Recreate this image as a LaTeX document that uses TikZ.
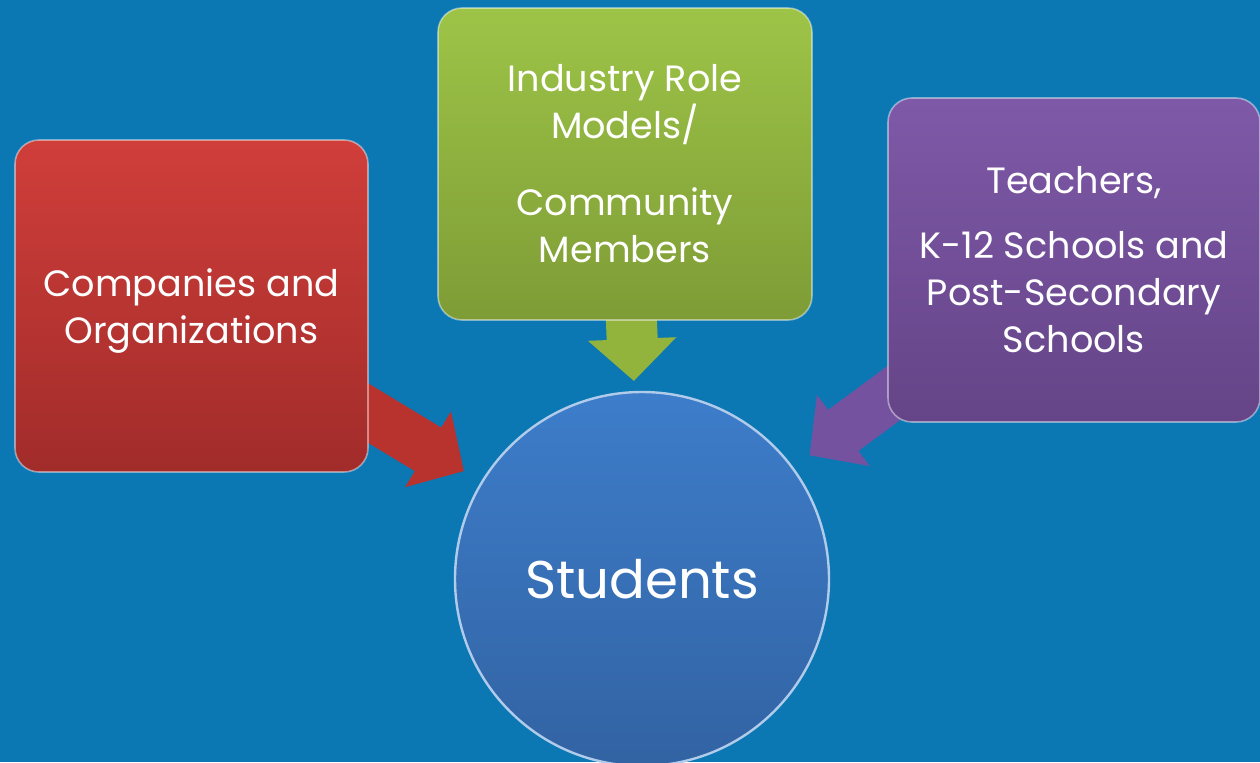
\documentclass[tikz,border=0pt]{standalone}
\usepackage{fontspec}
\setmainfont{Poppins}
\usepackage{tikz}
\usetikzlibrary{arrows.meta,backgrounds}
\pgfdeclarelayer{feedlayer}
\pgfsetlayers{background,feedlayer,main}
\definecolor{bgblue}{HTML}{0B78B4}
\definecolor{redTop}{HTML}{D03E3A}
\definecolor{redBot}{HTML}{A12C2A}
\definecolor{redArr}{HTML}{B8322E}
\definecolor{grnTop}{HTML}{9DC447}
\definecolor{grnBot}{HTML}{7E9C36}
\definecolor{grnArr}{HTML}{93B43C}
\definecolor{prpTop}{HTML}{7E59A8}
\definecolor{prpBot}{HTML}{654487}
\definecolor{prpArr}{HTML}{7552A0}
\definecolor{stuTop}{HTML}{3D7DCA}
\definecolor{stuBot}{HTML}{3263A3}
\tikzset{
  part/.style ={rectangle,rounded corners=12pt,align=center,text=white,
                font=\fontsize{18.3}{23.5}\selectfont,inner sep=2pt,
                line width=0.8pt,draw opacity=0.45},
  core/.style ={circle,minimum size=187pt,inner sep=0pt,text=white,
                font=\fontsize{26.5}{32}\selectfont,
                top color=stuTop,bottom color=stuBot,
                draw=white!60!stuTop,line width=1.2pt},
  feed/.style ={line width=25.5pt,
                -{Triangle[length=21pt,width=43pt]}},
}
\begin{document}
\begin{tikzpicture}[x=0.5pt,y=-0.5pt]
\useasboundingbox (0,0) rectangle (1260,762);
\begin{pgfonlayer}{background}
\fill[bgblue] (0,0) rectangle (1260,762);
\end{pgfonlayer}
\node[part,minimum width=176.5pt,minimum height=166pt,
      top color=redTop,bottom color=redBot,draw=white]
      (comp) at (191.5,306) {\\[-5pt]Companies and\\Organizations};
\node[part,minimum width=187pt,minimum height=156pt,
      top color=grnTop,bottom color=grnBot,draw=white]
      (mentor) at (625,164) {Industry Role\\Models/\\[15pt]Community\\Members};
\node[part,minimum width=186pt,minimum height=162pt,
      top color=prpTop,bottom color=prpBot,draw=white]
      (school) at (1074,260) {Teachers,\\[9pt]K-12 Schools and\\Post-Secondary\\Schools};
\node[core] (stu) at (642,579) {Students};
\begin{pgfonlayer}{feedlayer}
\draw[feed,color=redArr,shorten >=10pt] (comp.center) -- (stu);
\draw[feed,color=grnArr,shorten >=5pt] (mentor.center) -- (stu);
\draw[feed,color=prpArr,shorten >=10pt] (school.center) -- (stu);
\end{pgfonlayer}
\end{tikzpicture}
\end{document}
